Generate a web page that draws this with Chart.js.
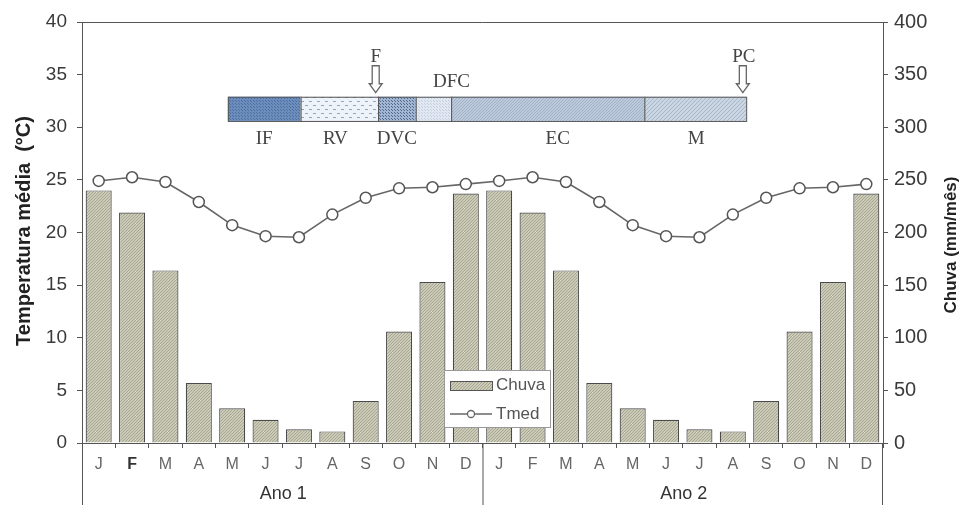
<!DOCTYPE html>
<html>
<head>
<meta charset="utf-8">
<script src="https://cdn.jsdelivr.net/npm/chart.js@4.4.1/dist/chart.umd.min.js"></script>
<style>
  html, body { margin: 0; padding: 0; background: #fff; }
  #wrap { width: 964px; height: 526px; }
</style>
</head>
<body>
<div id="wrap"><canvas id="chart" width="964" height="526"></canvas></div>
<script>
const meses = ['J', 'F', 'M', 'A', 'M', 'J', 'J', 'A', 'S', 'O', 'N', 'D'];
const categorias = meses.concat(meses);
const anos = ['Ano 1', 'Ano 2'];

// chuva mensal (mm/mês), eixo direito
const chuva = [240, 219, 164, 57, 33, 22, 13, 11, 40, 106, 153, 237,
               240, 219, 164, 57, 33, 22, 13, 11, 40, 106, 153, 237];
// temperatura média (°C), eixo esquerdo
const tmed = [24.9, 25.25, 24.8, 22.9, 20.7, 19.65, 19.55, 21.7, 23.3, 24.2, 24.3, 24.6,
              24.9, 25.25, 24.8, 22.9, 20.7, 19.65, 19.55, 21.7, 23.3, 24.2, 24.3, 24.6];

const ticksTemp = [0, 5, 10, 15, 20, 25, 30, 35, 40];
const ticksChuva = [0, 50, 100, 150, 200, 250, 300, 350, 400];

// fases do ciclo (início/fim em meses a partir de janeiro do ano 1)
const fases = ['IF', 'RV', 'DVC', 'DFC', 'EC', 'M'];
const faseLimites = [4.37, 6.55, 8.87, 10.0, 11.06, 16.85, 19.9];
const marcos = ['F', 'PC'];
const marcosPos = [8.8, 19.8];

const SANS = '"Liberation Sans", Arial, sans-serif';
const SERIF = '"Liberation Serif", "DejaVu Serif", serif';

function hatch(bg, fg, step, kind) {
    const c = document.createElement('canvas');
    c.width = step; c.height = step;
    const g = c.getContext('2d');
    g.fillStyle = bg;
    g.fillRect(0, 0, step, step);
    g.strokeStyle = fg;
    g.fillStyle = fg;
    g.lineWidth = 1;
    if (kind === 'diag') {
        g.beginPath();
        g.moveTo(0, step); g.lineTo(step, 0);
        g.moveTo(-1, 1); g.lineTo(1, -1);
        g.moveTo(step - 1, step + 1); g.lineTo(step + 1, step - 1);
        g.stroke();
    } else if (kind === 'dots') {
        g.fillRect(1, 1, 1, 1);
        g.fillRect(Math.floor(step / 2) + 1, Math.floor(step / 2) + 1, 1, 1);
    } else if (kind === 'dash') {
        g.fillRect(1, 1, 3, 1);
        g.fillRect(Math.floor(step / 2) + 1, Math.floor(step / 2) + 1, 3, 1);
    }
    return g.createPattern(c, 'repeat');
}

const ctx = document.getElementById('chart').getContext('2d');
const barFill = hatch('#cbcbb7', '#a6a692', 3, 'diag');
const faseFills = [
    hatch('#6a8dbd', '#4f6f9d', 3, 'dots'),
    hatch('#eef3f9', '#8fa6c4', 8, 'dash'),
    hatch('#a3b6d1', '#4f6890', 3, 'dots'),
    hatch('#e2e8f1', '#c3cfe0', 3, 'dots'),
    hatch('#bccadb', '#a0b1c8', 3, 'diag'),
    hatch('#cbd6e3', '#a6b6cb', 4, 'diag')
];
// deslocamento horizontal dos rótulos das fases
const faseDesloc = [0, -4, 0, 18, 10, 1];

const extras = {
    id: 'extras',
    afterDatasetsDraw(chart) {
        const c = chart.ctx;
        const x = chart.scales.x, y = chart.scales.y;
        const px = m => x.left + (x.right - x.left) * m / categorias.length;

        // barra de fases
        const yTop = y.getPixelForValue(32.9), yBot = y.getPixelForValue(30.6);
        c.save();
        for (let i = 0; i < fases.length; i++) {
            const a = px(faseLimites[i]), b = px(faseLimites[i + 1]);
            c.fillStyle = faseFills[i];
            c.fillRect(a, yTop, b - a, yBot - yTop);
            c.strokeStyle = '#555';
            c.lineWidth = 1;
            c.strokeRect(a + 0.5, yTop + 0.5, b - a, yBot - yTop);
        }
        c.font = '19px ' + SERIF;
        c.fillStyle = '#444';
        c.textAlign = 'center';
        c.textBaseline = 'middle';
        for (let i = 0; i < fases.length; i++) {
            const mid = (px(faseLimites[i]) + px(faseLimites[i + 1])) / 2 + faseDesloc[i];
            if (fases[i] === 'DFC') {
                c.fillText(fases[i], mid, yTop - 15);
            } else {
                c.fillText(fases[i], mid, yBot + 18);
            }
        }
        // setas
        for (let i = 0; i < marcos.length; i++) {
            const ax = px(marcosPos[i]);
            c.fillStyle = '#444';
            c.fillText(marcos[i], ax + (i ? 1 : 0), yTop - 40);
            c.beginPath();
            c.moveTo(ax - 3.5, yTop - 31);
            c.lineTo(ax + 3.5, yTop - 31);
            c.lineTo(ax + 3.5, yTop - 13);
            c.lineTo(ax + 6.5, yTop - 13);
            c.lineTo(ax, yTop - 4);
            c.lineTo(ax - 6.5, yTop - 13);
            c.lineTo(ax - 3.5, yTop - 13);
            c.closePath();
            c.fillStyle = '#fff';
            c.fill();
            c.strokeStyle = '#666';
            c.lineWidth = 1.3;
            c.stroke();
        }

        // legenda
        const lx = 444, ly = 370;
        c.fillStyle = '#fff';
        c.fillRect(lx, ly, 106, 57);
        c.strokeStyle = '#999';
        c.lineWidth = 1;
        c.strokeRect(lx + 0.5, ly + 0.5, 106, 57);
        c.fillStyle = barFill;
        c.fillRect(lx + 6, ly + 11, 42, 9);
        c.strokeStyle = '#555';
        c.strokeRect(lx + 6.5, ly + 11.5, 42, 9);
        c.strokeStyle = '#666';
        c.lineWidth = 1.3;
        c.beginPath();
        c.moveTo(lx + 6, ly + 44); c.lineTo(lx + 48, ly + 44); c.stroke();
        c.beginPath();
        c.arc(lx + 27, ly + 44, 3.5, 0, Math.PI * 2);
        c.fillStyle = '#fff'; c.fill(); c.stroke();
        c.font = '17px ' + SANS;
        c.fillStyle = '#555';
        c.textAlign = 'left';
        c.textBaseline = 'middle';
        c.fillText(chart.data.datasets[0].label, lx + 52, ly + 15);
        c.fillText(chart.data.datasets[1].label, lx + 52, ly + 44);
        c.restore();
    },
    afterDraw(chart) {
        const c = chart.ctx;
        const area = chart.chartArea;
        const base = 505;
        c.save();
        c.strokeStyle = '#555';
        c.lineWidth = 1;
        c.beginPath();
        c.moveTo(area.left + 0.5, area.bottom); c.lineTo(area.left + 0.5, base);
        c.moveTo(area.right - 0.5, area.bottom); c.lineTo(area.right - 0.5, base);
        const meio = (area.left + area.right) / 2;
        c.moveTo(meio + 0.5, area.bottom); c.lineTo(meio + 0.5, base);
        c.moveTo(area.left, area.top + 0.5); c.lineTo(area.right, area.top + 0.5);
        c.stroke();
        c.font = '18px ' + SANS;
        c.fillStyle = '#333';
        c.textAlign = 'center';
        c.textBaseline = 'middle';
        c.fillText(anos[0], (area.left + meio) / 2 + 1, 494);
        c.fillText(anos[1], (meio + area.right) / 2 + 1, 494);
        c.fillStyle = '#222';
        c.save();
        c.translate(24, 231);
        c.rotate(-Math.PI / 2);
        c.font = 'bold 20px ' + SANS;
        c.fillText('Temperatura média  (°C)', 0, 0);
        c.restore();
        c.translate(951, 245);
        c.rotate(-Math.PI / 2);
        c.font = 'bold 17px ' + SANS;
        c.fillText('Chuva (mm/mês)', 0, 0);
        c.restore();
    }
};

new Chart(ctx, {
    type: 'bar',
    data: {
        labels: categorias,
        datasets: [
            {
                type: 'bar',
                label: 'Chuva',
                data: chuva,
                yAxisID: 'y2',
                backgroundColor: barFill,
                borderColor: '#4a4a4a',
                borderWidth: 1.2,
                barPercentage: 0.78,
                categoryPercentage: 1,
                order: 2
            },
            {
                type: 'line',
                label: 'Tmed',
                data: tmed,
                yAxisID: 'y',
                borderColor: '#666',
                borderWidth: 1.6,
                pointRadius: 5.5,
                pointBackgroundColor: '#fff',
                pointBorderColor: '#555',
                pointBorderWidth: 1.5,
                tension: 0,
                order: 1
            }
        ]
    },
    options: {
        responsive: false,
        animation: false,
        layout: { padding: { top: 22, left: 0, right: 0, bottom: 0 } },
        plugins: {
            legend: { display: false },
            tooltip: { enabled: false }
        },
        scales: {
            x: {
                offset: true,
                grid: { display: true, offset: true, drawOnChartArea: false, tickLength: 5, color: '#555' },
                border: { color: '#555' },
                ticks: {
                    color: c => c.index === 1 ? '#333' : '#666',
                    font: c => ({ size: 16, family: SANS, weight: c.index === 1 ? 'bold' : 'normal' }),
                    padding: 7, maxRotation: 0, autoSkip: false
                },
                afterFit: s => { s.height = 83; }
            },
            y: {
                position: 'left',
                min: 0, max: 40,
                afterBuildTicks: s => { s.ticks = ticksTemp.map(v => ({ value: v })); },
                grid: { drawOnChartArea: false, tickLength: 5, color: '#555' },
                border: { color: '#555' },
                ticks: { color: '#3a3a3a', font: { size: 19, family: SANS }, padding: 10 },
                afterFit: s => { s.width = 82; }
            },
            y2: {
                position: 'right',
                min: 0, max: 400,
                afterBuildTicks: s => { s.ticks = ticksChuva.map(v => ({ value: v })); },
                grid: { drawOnChartArea: false, tickLength: 5, color: '#555' },
                border: { color: '#555' },
                ticks: { color: '#3a3a3a', font: { size: 20, family: SANS }, padding: 6 },
                afterFit: s => { s.width = 81; }
            }
        }
    },
    plugins: [extras]
});
</script>
</body>
</html>
